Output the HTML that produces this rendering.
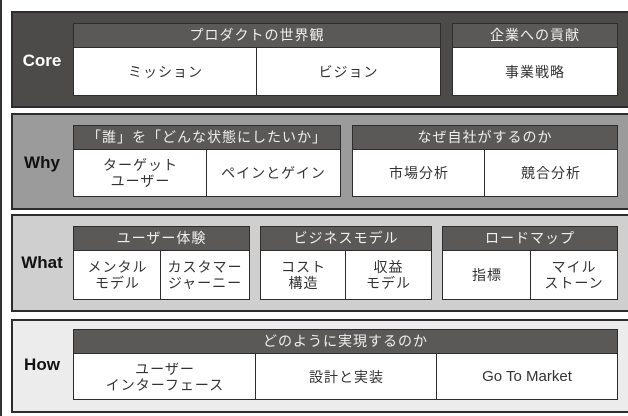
<!DOCTYPE html>
<html><head><meta charset="utf-8"><style>
*{margin:0;padding:0;box-sizing:border-box}
body{width:628px;height:416px;background:#fff;position:relative;overflow:hidden;font-family:"Liberation Sans","Noto Sans CJK JP",sans-serif}
.edge{position:absolute;left:0;top:0;width:2px;height:416px;background:#333}
.band{position:absolute;left:11px;width:630px;border:2px solid #2e2c2c}
.lab{position:absolute;left:0;width:62px;font-weight:bold;font-size:17px;text-align:center}
.hd{position:absolute;background:#5b5858;color:#eee;font-size:14px;text-align:center;border:1.5px solid #2e2c2c;border-bottom:none;letter-spacing:1px}
.bx{position:absolute;background:#fff;border:1.5px solid #2e2c2c;color:#333;font-size:14px;display:flex;align-items:center;justify-content:center;text-align:center;line-height:16px;letter-spacing:1px}
</style></head><body>
<div class="edge"></div>
<div class="band" style="top:11px;height:97px;background:#4d4a4a"></div>
<div class="band" style="top:113px;height:97px;background:#9b9b9b"></div>
<div class="band" style="top:214px;height:98px;background:#cfcfcf"></div>
<div class="band" style="top:319px;height:94px;background:#ececec"></div>
<div class="lab" style="left:11px;top:51px;color:#fff">Core</div>
<div class="lab" style="left:11px;top:153px;color:#111">Why</div>
<div class="lab" style="left:11px;top:253px;color:#111">What</div>
<div class="lab" style="left:11px;top:355px;color:#111">How</div>

<div class="hd" style="left:73px;top:23px;width:368px;height:25px;line-height:23px">プロダクトの世界観</div>
<div class="bx" style="left:73px;top:47px;width:185px;height:49px">ミッション</div>
<div class="bx" style="left:256px;top:47px;width:185px;height:49px">ビジョン</div>
<div class="hd" style="left:452px;top:23px;width:166px;height:25px;line-height:23px">企業への貢献</div>
<div class="bx" style="left:452px;top:47px;width:166px;height:49px">事業戦略</div>

<div class="hd" style="left:73px;top:125px;width:268px;height:25px;line-height:23px">「誰」を「どんな状態にしたいか」</div>
<div class="bx" style="left:73px;top:149px;width:135px;height:48px">ターゲット<br>ユーザー</div>
<div class="bx" style="left:206px;top:149px;width:135px;height:48px">ペインとゲイン</div>
<div class="hd" style="left:352px;top:125px;width:266px;height:25px;line-height:23px">なぜ自社がするのか</div>
<div class="bx" style="left:352px;top:149px;width:134px;height:48px">市場分析</div>
<div class="bx" style="left:484px;top:149px;width:134px;height:48px">競合分析</div>

<div class="hd" style="left:73px;top:226px;width:177px;height:25px;line-height:23px">ユーザー体験</div>
<div class="bx" style="left:73px;top:250px;width:89px;height:50px">メンタル<br>モデル</div>
<div class="bx" style="left:160px;top:250px;width:90px;height:50px">カスタマー<br>ジャーニー</div>
<div class="hd" style="left:260px;top:226px;width:172px;height:25px;line-height:23px">ビジネスモデル</div>
<div class="bx" style="left:260px;top:250px;width:87px;height:50px">コスト<br>構造</div>
<div class="bx" style="left:345px;top:250px;width:87px;height:50px">収益<br>モデル</div>
<div class="hd" style="left:442px;top:226px;width:176px;height:25px;line-height:23px">ロードマップ</div>
<div class="bx" style="left:442px;top:250px;width:90px;height:50px">指標</div>
<div class="bx" style="left:530px;top:250px;width:88px;height:50px">マイル<br>ストーン</div>

<div class="hd" style="left:73px;top:329px;width:545px;height:25px;line-height:23px">どのように実現するのか</div>
<div class="bx" style="left:73px;top:353px;width:184px;height:47px">ユーザー<br>インターフェース</div>
<div class="bx" style="left:255px;top:353px;width:183px;height:47px">設計と実装</div>
<div class="bx" style="left:436px;top:353px;width:182px;height:47px;letter-spacing:0;font-size:15px">Go To Market</div>
</body></html>
